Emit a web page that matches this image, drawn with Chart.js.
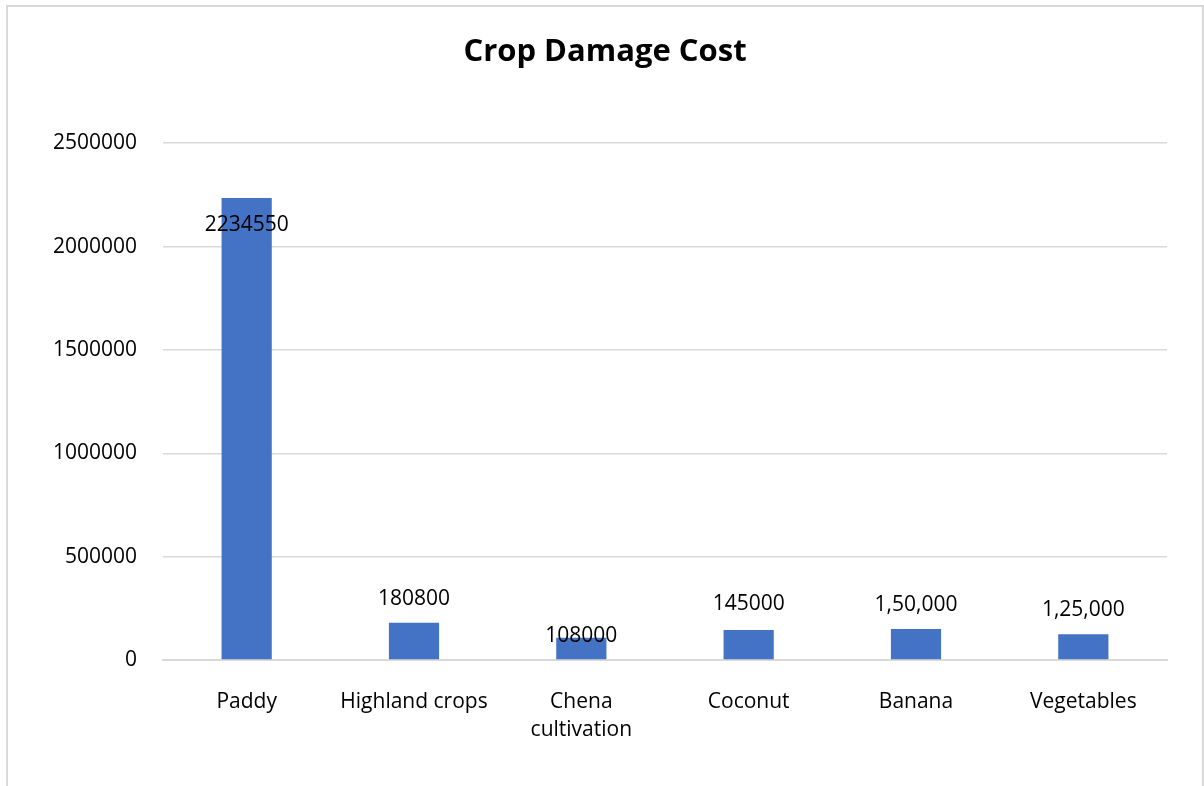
<!DOCTYPE html>
<html>
<head>
<meta charset="utf-8">
<script src="https://cdn.jsdelivr.net/npm/chart.js@4/dist/chart.umd.min.js"></script>
<style>
  html, body { margin: 0; padding: 0; background: #fff; }
  #wrap { position: absolute; left: 0; top: 0; width: 1204px; height: 786px; }
  #frame { position: absolute; left: 6px; top: 5px; width: 1194px; height: 790px;
           border: 2px solid #d9d9d9; pointer-events: none; }
</style>
</head>
<body>
<div id="wrap"><canvas id="cropChart" width="1204" height="786"></canvas></div>
<div id="frame"></div>
<script>
const crops = ['Paddy', 'Highland crops', ['Chena', 'cultivation'], 'Coconut', 'Banana', 'Vegetables'];
const damageCost = [2234550, 180800, 108000, 145000, 150000, 125000];
const costLabels = ['2234550', '180800', '108000', '145000', '1,50,000', '1,25,000'];
const yTicks = [0, 500000, 1000000, 1500000, 2000000, 2500000];

// where each value label sits relative to the bar top (px)
const labelShift = [27, -24, -2, -26, -24, -24];

const font = "'Open Sans', 'Liberation Sans', sans-serif";

const valueLabels = {
    id: 'valueLabels',
    afterDatasetsDraw(chart) {
        const ctx = chart.ctx;
        const bars = chart.getDatasetMeta(0).data;
        ctx.save();
        ctx.font = '21px ' + font;
        ctx.fillStyle = '#000';
        ctx.textAlign = 'center';
        ctx.textBaseline = 'middle';
        bars.forEach((bar, i) => {
            ctx.fillText(costLabels[i], bar.x, bar.y + labelShift[i]);
        });
        ctx.restore();
    }
};

new Chart(document.getElementById('cropChart'), {
    type: 'bar',
    data: {
        labels: crops,
        datasets: [{
            label: 'Crop Damage Cost',
            data: damageCost,
            backgroundColor: '#4472c4',
            barPercentage: 0.3,
            categoryPercentage: 1
        }]
    },
    options: {
        responsive: false,
        animation: false,
        layout: { padding: { left: 43, right: 37, top: 0, bottom: 22 } },
        plugins: {
            legend: { display: false },
            tooltip: { enabled: false },
            title: {
                display: true,
                text: 'Crop Damage Cost',
                color: '#000',
                font: { family: font, size: 31, weight: 'bold', lineHeight: 1.2 },
                padding: { top: 34, bottom: 72 }
            }
        },
        scales: {
            x: {
                grid: { display: false },
                border: { color: '#d9d9d9', width: 2 },
                ticks: {
                    color: '#000',
                    font: { family: font, size: 21, lineHeight: 1.38 },
                    padding: 19,
                    maxRotation: 0,
                    autoSkip: false
                }
            },
            y: {
                min: 0,
                max: 2500000,
                afterBuildTicks(scale) {
                    scale.ticks = yTicks.map(v => ({ value: v }));
                },
                afterFit(scale) { scale.width = 120; },
                grid: { color: '#d9d9d9', lineWidth: 1.5, drawTicks: false },
                border: { display: false },
                ticks: {
                    color: '#000',
                    font: { family: font, size: 21 },
                    padding: 26,
                    callback: v => String(v)
                }
            }
        }
    },
    plugins: [valueLabels]
});
</script>
</body>
</html>
